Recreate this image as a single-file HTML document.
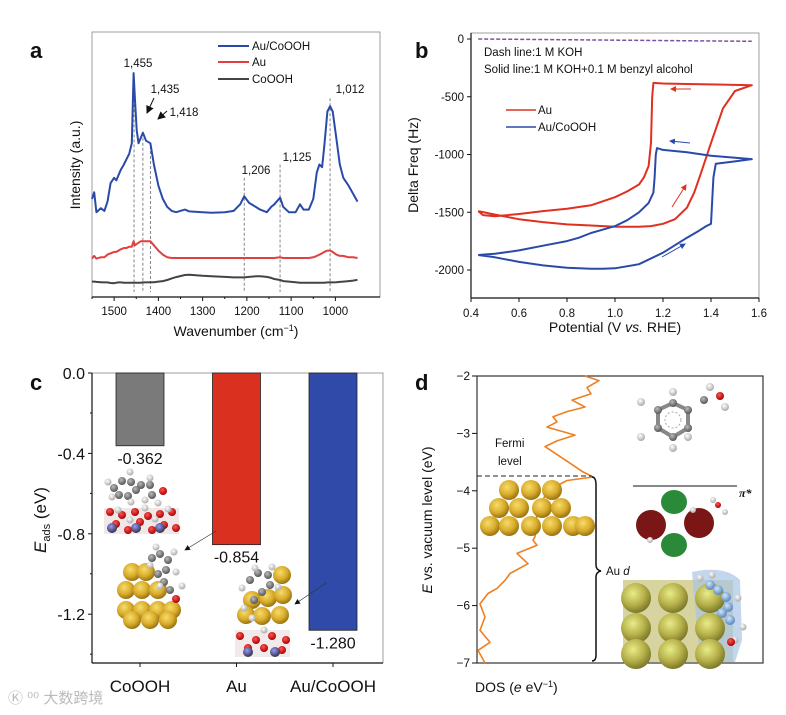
<!DOCTYPE html>
<html><head><meta charset="utf-8">
<style>
html,body{margin:0;padding:0;background:#fff;}
svg{display:block;font-family:"Liberation Sans","Noto Sans CJK SC",sans-serif;}
.t{font-size:11.5px;fill:#111;}
.ttl{font-size:14px;fill:#111;}
.pl{font-size:22px;font-weight:bold;fill:#111;}
</style></head>
<body>
<svg id="fig" width="786" height="715" viewBox="0 0 786 715" xmlns="http://www.w3.org/2000/svg">
<defs>
<radialGradient id="gold" cx="40%" cy="35%" r="65%"><stop offset="0" stop-color="#f6dc6a"/><stop offset="0.6" stop-color="#d9ac2c"/><stop offset="1" stop-color="#9a7410"/></radialGradient>
<radialGradient id="olive" cx="40%" cy="35%" r="65%"><stop offset="0" stop-color="#e8ec88"/><stop offset="0.6" stop-color="#b6b04a"/><stop offset="1" stop-color="#7d7a2a"/></radialGradient>
<radialGradient id="gray" cx="40%" cy="35%" r="65%"><stop offset="0" stop-color="#bbb"/><stop offset="1" stop-color="#555"/></radialGradient>
<radialGradient id="wht" cx="40%" cy="35%" r="65%"><stop offset="0" stop-color="#fff"/><stop offset="1" stop-color="#aaa"/></radialGradient>
<radialGradient id="red" cx="40%" cy="35%" r="65%"><stop offset="0" stop-color="#f55"/><stop offset="1" stop-color="#a00"/></radialGradient>
<radialGradient id="blu" cx="40%" cy="35%" r="65%"><stop offset="0" stop-color="#99f"/><stop offset="1" stop-color="#334"/></radialGradient>
<radialGradient id="lblu" cx="40%" cy="35%" r="65%"><stop offset="0" stop-color="#cfe6ff"/><stop offset="1" stop-color="#5a86b8"/></radialGradient>
<marker id="ah" markerWidth="8" markerHeight="8" refX="7" refY="4" orient="auto"><path d="M0,0 L8,4 L0,8 z" fill="#111"/></marker>
<marker id="ahr" markerWidth="6" markerHeight="6" refX="5" refY="3" orient="auto"><path d="M0,0 L6,3 L0,6 z" fill="#e03020"/></marker>
<marker id="ahb" markerWidth="6" markerHeight="6" refX="5" refY="3" orient="auto"><path d="M0,0 L6,3 L0,6 z" fill="#2a4aa8"/></marker>
</defs>

<!-- Panel A -->
<g id="pa">
<text class="pl" x="30" y="58">a</text>
<rect x="92" y="32" width="288" height="265" fill="none" stroke="#888" stroke-width="0.8"/>
<line x1="92" y1="297" x2="380" y2="297" stroke="#111" stroke-width="1.2"/>
<g id="pa-ticks"></g>
<g id="pa-dash"></g>
<g id="pa-lines"></g>
<text class="ttl" x="236" y="336" text-anchor="middle">Wavenumber (cm<tspan baseline-shift="super" font-size="9">−1</tspan>)</text>
<text class="ttl" transform="translate(80,165) rotate(-90)" text-anchor="middle">Intensity (a.u.)</text>
<g>
<line x1="218" y1="46" x2="249" y2="46" stroke="#2a4aa8" stroke-width="2"/><text class="t" x="252" y="50">Au/CoOOH</text>
<line x1="218" y1="62" x2="249" y2="62" stroke="#e04040" stroke-width="2"/><text class="t" x="252" y="66">Au</text>
<line x1="218" y1="79" x2="249" y2="79" stroke="#444" stroke-width="2"/><text class="t" x="252" y="83">CoOOH</text>
</g>
<g class="t">
<text class="t" x="138" y="67" text-anchor="middle">1,455</text>
<text class="t" x="165" y="93" text-anchor="middle">1,435</text>
<text class="t" x="184" y="116" text-anchor="middle">1,418</text>
<text class="t" x="256" y="174" text-anchor="middle">1,206</text>
<text class="t" x="297" y="161" text-anchor="middle">1,125</text>
<text class="t" x="350" y="93" text-anchor="middle">1,012</text>
<line x1="154" y1="98" x2="147" y2="113" stroke="#111" marker-end="url(#ah)"/>
<line x1="167" y1="111" x2="158" y2="119" stroke="#111" marker-end="url(#ah)"/>
</g>
</g>

<!-- Panel B -->
<g id="pb">
<text class="pl" x="415" y="58">b</text>
<rect x="471" y="33" width="288" height="265" fill="none" stroke="#888" stroke-width="0.8"/>
<line x1="471" y1="298" x2="759" y2="298" stroke="#111" stroke-width="1.2"/>
<line x1="471" y1="33" x2="471" y2="298" stroke="#111" stroke-width="1.2"/>
<g id="pb-ticks"></g>
<g id="pb-lines"></g>
<text class="ttl" x="615" y="332" text-anchor="middle">Potential (V <tspan font-style="italic">vs.</tspan> RHE)</text>
<text class="ttl" transform="translate(418,165) rotate(-90)" text-anchor="middle">Delta Freq (Hz)</text>
<text class="t" x="484" y="56" font-size="11">Dash line:1 M KOH</text>
<text class="t" x="484" y="73" font-size="11">Solid line:1 M KOH+0.1 M benzyl alcohol</text>
<g>
<line x1="506" y1="110" x2="536" y2="110" stroke="#e03020" stroke-width="1.5"/><text class="t" x="538" y="114">Au</text>
<line x1="506" y1="127" x2="536" y2="127" stroke="#2a4aa8" stroke-width="1.5"/><text class="t" x="538" y="131">Au/CoOOH</text>
</g>
<line x1="691" y1="89" x2="671" y2="89" stroke="#e03020" marker-end="url(#ahr)"/>
<line x1="672" y1="207" x2="686" y2="185" stroke="#e03020" marker-end="url(#ahr)"/>
<line x1="690" y1="143" x2="670" y2="141" stroke="#2a4aa8" marker-end="url(#ahb)"/>
<line x1="662" y1="257" x2="685" y2="244" stroke="#2a4aa8" marker-end="url(#ahb)"/>
</g>

<!-- Panel C -->
<g id="pc">
<text class="pl" x="30" y="390">c</text>
<rect x="92" y="373" width="291" height="290" fill="none" stroke="#888" stroke-width="0.8"/>
<line x1="92" y1="663" x2="383" y2="663" stroke="#111" stroke-width="1.2"/>
<line x1="92" y1="373" x2="92" y2="663" stroke="#111" stroke-width="1.2"/>
<g id="pc-ticks"></g>
<g id="pc-bars"></g>
<text transform="translate(46,520) rotate(-90)" text-anchor="middle" font-size="17" fill="#111"><tspan font-style="italic">E</tspan><tspan font-size="11" dy="4">ads</tspan><tspan dy="-4"> (eV)</tspan></text>
<g id="pc-mol"></g>
<line x1="216" y1="531" x2="185" y2="550" stroke="#333" stroke-width="0.7" marker-end="url(#ah)"/>
<line x1="326" y1="583" x2="295" y2="604" stroke="#333" stroke-width="0.7" marker-end="url(#ah)"/>
</g>

<!-- Panel D -->
<g id="pd">
<text class="pl" x="415" y="390">d</text>
<rect x="477" y="376" width="286" height="287" fill="none" stroke="#333" stroke-width="1.2"/>
<g id="pd-ticks"></g>
<g id="pd-line"></g>
<text class="ttl" transform="translate(432,520) rotate(-90)" text-anchor="middle"><tspan font-style="italic">E</tspan> vs. vacuum level (eV)</text>
<text class="ttl" x="475" y="692">DOS (<tspan font-style="italic">e</tspan> eV<tspan baseline-shift="super" font-size="9">−1</tspan>)</text>
<line x1="477" y1="476" x2="592" y2="476" stroke="#222" stroke-dasharray="5,3"/>
<text class="t" x="495" y="447" font-size="12">Fermi</text>
<text class="t" x="498" y="465" font-size="12">level</text>
<path d="M592,477 Q596,477 596,485 L596,565 Q596,570 601,571 Q596,572 596,577 L596,655 Q596,661 592,661" fill="none" stroke="#111" stroke-width="1.5"/>
<text class="t" x="606" y="575" font-size="13">Au <tspan font-style="italic">d</tspan></text>
<line x1="633" y1="486" x2="737" y2="486" stroke="#111"/>
<text x="739" y="497" font-size="12" font-style="italic" font-weight="bold" fill="#111" font-family="Liberation Serif,serif">π*</text>
<g id="pd-mol"></g>
</g>

<text x="8" y="703" font-size="15" fill="#bbb">Ⓚ ⁰⁰ 大数跨境</text>
</svg>

<script>
const NS="http://www.w3.org/2000/svg";
function mk(tag,attrs,parent){const e=document.createElementNS(NS,tag);for(const k in attrs)e.setAttribute(k,attrs[k]);parent.appendChild(e);return e;}

/* ===== Panel A data ===== */
const aWave=[1550,1545,1540,1530,1522,1515,1508,1500,1495,1490,1485,1478,1472,1466,1460,1456,1453,1449,1445,1440,1435,1428,1418,1410,1400,1390,1380,1370,1360,1340,1330,1300,1280,1250,1230,1215,1206,1195,1180,1170,1155,1145,1138,1125,1118,1105,1090,1080,1072,1060,1050,1042,1036,1030,1025,1018,1012,1006,998,990,982,970,960,950];
const aBlue=[37,39.5,32,33.5,32.5,36,43,45,44,46,48,50,52,54,58,84.5,75,63,58,60,62,59,58,50,42,37,34,32.5,32,33,32.3,32,31.8,32,32.5,35,38,35.5,34,33,32,34,35,37.5,34,32,32,35,33,33,37,47,50,49,57,70,72,70,60,50,45,42,39,36];
const aRed=[14.5,15.5,14.5,15,15,16,16.5,17,17,17.5,18,18.5,18.5,19,19,21,19.5,20,20.5,21,21,21,21,19.5,17.5,16,15,14.7,14.7,14.7,14.7,14.7,14.7,14.7,14.7,14.7,14.7,14.7,14.7,14.7,14.7,14.7,14.7,15,14.7,14.7,14.7,14.7,14.7,14.7,15,15.5,16,16.5,17,17.5,17.5,17,16,15.5,15.5,15,15,14.7];
const aGray=[5.8,5.8,5.7,5.6,5.5,5.5,5.3,5.2,5.4,5.5,5.5,5.4,5.4,5.4,5.4,5.4,5.4,5.4,5.4,5.4,5.5,5.5,5.6,5.6,5.8,6,6.4,7,7.5,8.3,8.4,8,7.8,7.6,7.4,7.4,7.4,7.6,7.8,7.8,7.6,7.2,6.8,6.4,6.0,5.8,5.6,5.4,5.4,5.4,5.4,5.4,5.4,5.4,5.4,5.5,5.5,5.5,5.6,5.7,5.8,6.0,6.2,6.5];
const aTicks=[1500,1400,1300,1200,1100,1000];
const aPeaks=[1455,1435,1418,1206,1125,1012];
const aPeakTop=[84,62,57,45,50,75];
function ax(w){return 92+(1550-w)*0.4425;}
function ay(v){return 297-v*2.65;}
(function(){
 const g=document.getElementById('pa-lines');
 [[aGray,'#444','series-coooh'],[aRed,'#e04040','series-au'],[aBlue,'#2a4aa8','series-au-coooh']].forEach(s=>{
  let d='';aWave.forEach((w,i)=>{d+=(i?'L':'M')+ax(w).toFixed(1)+','+ay(s[0][i]).toFixed(1);});
  const p=mk('path',{d:d,fill:'none',stroke:s[1],'stroke-width':2,'stroke-linejoin':'round'},g);
  
  
 });
 const tg=document.getElementById('pa-ticks');
 aTicks.forEach(t=>{const x=ax(t);
  mk('line',{x1:x,y1:297,x2:x,y2:301,stroke:'#111'},tg);
  const tx=mk('text',{x:x,y:315,'text-anchor':'middle',class:'t'},tg);tx.textContent=t;
  
  
  mk('line',{x1:ax(t+50),y1:297,x2:ax(t+50),y2:299,stroke:'#111'},tg);
 });
 const dg=document.getElementById('pa-dash');
 aPeaks.forEach((p,i)=>{const l=mk('line',{x1:ax(p),x2:ax(p),y1:ay(aPeakTop[i]),y2:292,stroke:'#777','stroke-dasharray':'3,2','stroke-width':0.9},dg);
  
  });
})();

/* ===== Panel B data ===== */
const bAuV=[0.43,0.5,0.6,0.7,0.8,0.9,1.0,1.1,1.15,1.2,1.25,1.3,1.33,1.36,1.4,1.45,1.5,1.57,1.45,1.3,1.2,1.16,1.155,1.15,1.14,1.12,1.1,1.05,1.0,0.9,0.8,0.7,0.6,0.5,0.45,0.43];
const bAuF=[-1490,-1520,-1560,-1585,-1605,-1615,-1625,-1625,-1620,-1600,-1560,-1460,-1330,-1150,-900,-600,-450,-400,-395,-390,-385,-380,-500,-900,-1100,-1200,-1260,-1320,-1370,-1440,-1470,-1490,-1515,-1535,-1525,-1490];
const bCoV=[0.43,0.5,0.6,0.7,0.8,0.9,0.95,1.0,1.1,1.2,1.3,1.35,1.38,1.4,1.405,1.41,1.42,1.5,1.57,1.4,1.3,1.2,1.175,1.17,1.165,1.16,1.14,1.1,1.05,1.0,0.95,0.9,0.85,0.8,0.7,0.6,0.5,0.43];
const bCoF=[-1870,-1890,-1930,-1960,-1980,-1990,-1990,-1985,-1950,-1850,-1720,-1660,-1620,-1600,-1400,-1200,-1080,-1060,-1040,-1010,-980,-960,-945,-1000,-1200,-1330,-1420,-1500,-1570,-1620,-1650,-1680,-1720,-1750,-1790,-1830,-1860,-1870];
const bDashV=[0.43,1.57];
const bDashF=[0,-20];
const bXTicks=[0.4,0.6,0.8,1.0,1.2,1.4,1.6];
const bYTicks=[0,-500,-1000,-1500,-2000];
function bx(v){return 471+(v-0.4)*240;}
function by(f){return 39-f*0.1155;}
(function(){
 const g=document.getElementById('pb-lines');
 [[bDashV,bDashF,'#8050a0','dash-baseline','4,2'],[bAuV,bAuF,'#e03020','series-au-qcm',''],[bCoV,bCoF,'#2a4aa8','series-au-coooh-qcm','']].forEach(s=>{
  let d='';s[0].forEach((v,i)=>{d+=(i?'L':'M')+bx(v).toFixed(1)+','+by(s[1][i]).toFixed(1);});
  const p=mk('path',{d:d,fill:'none',stroke:s[2],'stroke-width':s[4]?1.5:2,'stroke-dasharray':s[4]||'none','stroke-linejoin':'round'},g);
  
  
 });
 const tg=document.getElementById('pb-ticks');
 bXTicks.forEach(t=>{const x=bx(t);
  mk('line',{x1:x,y1:298,x2:x,y2:302,stroke:'#111'},tg);
  const tx=mk('text',{x:x,y:317,'text-anchor':'middle',class:'t'},tg);tx.textContent=t.toFixed(1);
  
  });
 bYTicks.forEach(t=>{const y=by(t);
  mk('line',{x1:467,y1:y,x2:471,y2:y,stroke:'#111'},tg);
  const tx=mk('text',{x:464,y:y+4,'text-anchor':'end',class:'t'},tg);tx.textContent=t;
  
  });
})();

/* ===== Panel C data ===== */
const cCats=['CoOOH','Au','Au/CoOOH'];
const cVals=[-0.362,-0.854,-1.280];
const cColors=['#7a7a7a','#d93020','#2f4aa8'];
const cYTicks=[0.0,-0.4,-0.8,-1.2];
function cx(i){return 140+i*96.5;}
function cy(v){return 373-v*201;}
(function(){
 const g=document.getElementById('pc-bars');
 cCats.forEach((c,i)=>{
  const y0=cy(0),y1=cy(cVals[i]);
  const r=mk('rect',{x:cx(i)-24,y:y0,width:48,height:y1-y0,fill:cColors[i],stroke:'#222','stroke-width':0.8},g);
  
  
  const v=mk('text',{x:cx(i),y:y1+18,'text-anchor':'middle','font-size':16,fill:'#111'},g);v.textContent=cVals[i].toFixed(3);
  
  
  mk('line',{x1:cx(i),y1:663,x2:cx(i),y2:667,stroke:'#111'},g);
  const t=mk('text',{x:cx(i),y:692,'text-anchor':'middle','font-size':17,fill:'#111'},g);t.textContent=c;
  
  
 });
 const tg=document.getElementById('pc-ticks');
 cYTicks.forEach(t=>{const y=cy(t);
  mk('line',{x1:88,y1:y,x2:92,y2:y,stroke:'#111'},tg);
  mk('line',{x1:90,y1:y+40,x2:92,y2:y+40,stroke:'#111'},tg);
  const tx=mk('text',{x:85,y:y+6,'text-anchor':'end','font-size':16,fill:'#111'},tg);tx.textContent=t.toFixed(1);
  
  });
})();

/* ===== Panel D data ===== */
const dE=[-2.0,-2.08,-2.2,-2.31,-2.42,-2.54,-2.62,-2.71,-2.8,-2.89,-3.03,-3.13,-3.23,-3.38,-3.52,-3.67,-3.76,-3.82,-4.0,-4.4,-4.8,-4.86,-4.95,-5.09,-5.27,-5.44,-5.56,-5.7,-5.79,-5.97,-6.2,-6.43,-6.64,-6.78,-7.0];
const dDos=[108,122,110,114,95,108,90,76,80,70,98,80,68,81,93,106,116,90,70,60,58,56,60,40,51,33,28,20,11,3,8,3,13,1,8];
const dYTicks=[-2,-3,-4,-5,-6,-7];
function dx(v){return 477+v;}
function dy(e){return 376+(-2-e)*57.4;}
(function(){
 const g=document.getElementById('pd-line');
 let d='';dE.forEach((e,i)=>{d+=(i?'L':'M')+dx(dDos[i]).toFixed(1)+','+dy(e).toFixed(1);});
 const p=mk('path',{d:d,fill:'none',stroke:'#f07f20','stroke-width':1.6,'stroke-linejoin':'round'},g);
 
 
 const tg=document.getElementById('pd-ticks');
 dYTicks.forEach(t=>{const y=dy(t);
  mk('line',{x1:472,y1:y,x2:477,y2:y,stroke:'#111'},tg);
  const tx=mk('text',{x:470,y:y+4,'text-anchor':'end','font-size':12,fill:'#111'},tg);tx.textContent='−'+Math.abs(t);
  
  });
})();

/* ===== Molecular insets (illustrations) ===== */
function atoms(g,list,fill,r){list.forEach(a=>mk('circle',{cx:a[0],cy:a[1],r:r,fill:fill},g));}
(function(){
 const c=document.getElementById('pc-mol');
 // CoOOH inset
 const g1=mk('g',{},c);
 
 
 mk('rect',{x:104,y:508,width:75,height:26,fill:'#f0e8e8'},g1);
 atoms(g1,[[110,512],[122,515],[135,512],[148,516],[160,514],[172,512],[116,524],[140,522],[164,525],[128,530],[152,530],[176,528]],'url(#red)',4);
 atoms(g1,[[112,528],[136,528],[160,528]],'url(#blu)',5);
 atoms(g1,[[118,510],[145,508],[168,509],[130,520],[155,519]],'url(#wht)',3.5);
 atoms(g1,[[114,488],[122,481],[131,482],[136,490],[128,496],[119,495],[141,485],[150,485],[152,495]],'url(#gray)',4);
 atoms(g1,[[130,472],[108,482],[112,497],[131,502],[150,478],[145,500],[158,503]],'url(#wht)',3.5);
 atoms(g1,[[163,491]],'url(#red)',4);
 // Au inset
 const g2=mk('g',{},c);
 
 
 atoms(g2,[[132,572],[146,572],[126,590],[142,590],[158,590],[126,610],[142,610],[158,610],[172,610],[132,620],[150,620],[168,620]],'url(#gold)',9);
 atoms(g2,[[152,558],[160,554],[168,560],[166,570],[158,574],[164,582],[170,590]],'url(#gray)',4);
 atoms(g2,[[156,547],[150,565],[174,552],[176,572],[182,586],[160,586]],'url(#wht)',3.5);
 atoms(g2,[[176,599]],'url(#red)',4);
 // Au/CoOOH inset
 const g3=mk('g',{},c);
 
 
 atoms(g3,[[282,575],[252,600],[268,598],[283,595],[246,615],[262,616],[280,615]],'url(#gold)',9);
 mk('rect',{x:235,y:630,width:55,height:27,fill:'#f2eaea'},g3);
 atoms(g3,[[240,636],[256,640],[272,636],[286,640],[248,648],[264,648],[282,650]],'url(#red)',4);
 atoms(g3,[[248,652],[275,652]],'url(#blu)',5);
 atoms(g3,[[250,580],[258,573],[268,575],[270,585],[262,592],[254,600]],'url(#gray)',4);
 atoms(g3,[[255,568],[272,567],[242,588],[278,587],[244,608],[252,618],[264,630]],'url(#wht)',3.5);
})();
(function(){
 const c=document.getElementById('pd-mol');
 // benzyl alcohol
 const g1=mk('g',{},c);
 
 
 mk('polygon',{points:'673,403 688,410 688,428 673,437 658,428 658,410',fill:'none',stroke:'#888','stroke-width':4},g1);
 mk('circle',{cx:673,cy:420,r:8,fill:'none',stroke:'#aaa','stroke-dasharray':'2,2'},g1);
 atoms(g1,[[673,403],[688,410],[688,428],[673,437],[658,428],[658,410],[704,400]],'url(#gray)',4);
 atoms(g1,[[673,392],[688,437],[673,448],[641,437],[641,402],[710,387],[725,407]],'url(#wht)',4);
 atoms(g1,[[720,396]],'url(#red)',4);
 // Au cluster
 const g2=mk('g',{},c);
 
 
 [[[509,531,552],490],[[499,519,542,561],508],[[490,509,531,552,573,585],526]].forEach(r=>r[0].forEach(x=>mk('circle',{cx:x,cy:r[1],r:10,fill:'url(#gold)'},g2)));
 // pi* orbital
 const g3=mk('g',{},c);
 
 
 mk('ellipse',{cx:674,cy:502,rx:13,ry:12,fill:'#2a8a3a'},g3);
 mk('ellipse',{cx:674,cy:545,rx:13,ry:12,fill:'#2a8a3a'},g3);
 mk('ellipse',{cx:651,cy:525,rx:15,ry:15,fill:'#7a1616'},g3);
 mk('ellipse',{cx:699,cy:523,rx:15,ry:15,fill:'#7a1616'},g3);
 atoms(g3,[[713,500],[725,512],[650,540],[693,510]],'url(#wht)',3);
 atoms(g3,[[718,505]],'url(#red)',3);
 // Au-adsorbed molecule surface
 const g4=mk('g',{},c);
 
 
 mk('rect',{x:623,y:580,width:110,height:82,fill:'#d8d4a0'},g4);
 mk('path',{d:'M692,572 Q725,565 740,580 L742,640 L735,662 L700,662 Z',fill:'#a8c4e6',opacity:0.7},g4);
 [[[636,673,710],598],[[636,673,710],628],[[636,673,710],654]].forEach(r=>r[0].forEach(x=>mk('circle',{cx:x,cy:r[1],r:15,fill:'url(#olive)'},g4)));
 atoms(g4,[[710,585],[718,590],[726,597],[728,607],[722,613],[730,620]],'url(#lblu)',5);
 atoms(g4,[[700,578],[712,575],[738,598],[743,627],[735,640]],'url(#wht)',3.5);
 atoms(g4,[[731,642]],'url(#red)',4);
})();
</script>
</body></html>
